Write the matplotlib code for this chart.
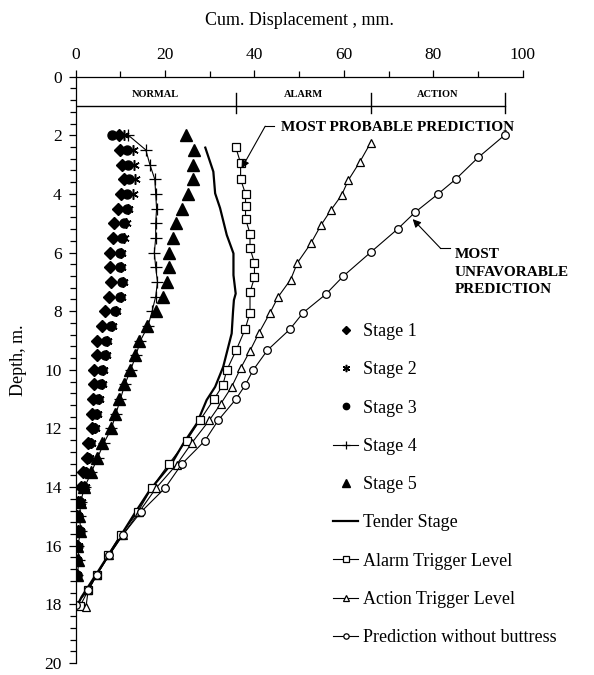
import matplotlib
matplotlib.use("Agg")
import matplotlib.pyplot as plt
import numpy as np
from matplotlib.ticker import MultipleLocator

plt.rcParams['font.family'] = ['Liberation Serif', 'DejaVu Serif']

# inclinometer readings, depth every 0.5 m
stage_depth = np.arange(2.0, 17.01, 0.5)

stage1 = [9.7, 9.9, 10.3, 10.7, 10.1, 9.4, 8.6, 8.3, 7.7, 7.7, 7.9, 7.5, 6.6, 5.8, 4.8, 4.8,
          4.2, 4.0, 3.8, 3.6, 3.6, 2.8, 2.5, 1.6, 1.3, 0.6, 0.2, 0.6, 0.2, 0.1, 0.0]
stage2 = [10.8, 12.9, 13.0, 13.3, 12.9, 11.7, 11.2, 10.7, 10.2, 10.2, 10.6, 10.2, 9.1, 8.1, 7.1, 6.8,
          6.2, 5.9, 5.3, 4.8, 4.3, 3.4, 3.0, 2.3, 2.0, 1.1, 0.6, 1.0, 0.5, 0.4, 0.3]
stage3 = [8.2, 11.4, 11.8, 12.0, 11.4, 11.4, 10.9, 10.4, 9.9, 9.9, 10.3, 9.9, 8.8, 7.8, 6.8, 6.6,
          6.0, 5.6, 5.1, 4.5, 4.1, 3.2, 2.8, 2.1, 1.9, 1.0, 0.5, 0.9, 0.4, 0.3, 0.2]
stage4 = [11.8, 15.7, 16.6, 17.7, 17.9, 18.1, 17.9, 17.9, 17.6, 17.9, 18.3, 17.9, 17.1, 16.2, 14.5, 13.5,
          12.3, 11.0, 10.0, 9.0, 8.0, 6.3, 4.9, 3.5, 2.0, 1.1, 0.9, 1.1, 0.5, 0.7, 0.4]
stage5 = [24.6, 26.5, 26.2, 26.2, 25.2, 23.7, 22.4, 21.8, 20.9, 20.9, 20.5, 19.6, 17.9, 15.9, 14.2, 13.3,
          12.2, 10.8, 9.8, 8.8, 7.8, 6.0, 4.7, 3.4, 1.9, 1.0, 0.8, 1.0, 0.4, 0.6, 0.3]

tender_depth = [2.42, 3.24, 3.98, 4.48, 5.4, 5.86, 6.03, 6.77, 7.4, 7.62, 8.02, 8.76, 9.9, 10.58,
                11.03, 11.83, 12.51, 13.19, 14.1, 14.8, 15.7, 16.95, 17.75, 18.0]
tender = [29.0, 30.8, 31.2, 32.3, 33.8, 34.9, 35.3, 35.3, 35.8, 35.4, 35.2, 34.9, 33.0, 31.2,
          29.3, 27.1, 24.1, 21.5, 16.6, 13.6, 9.9, 4.7, 1.3, 0.5]

alarm_depth = [2.4, 2.95, 3.5, 4.0, 4.4, 4.85, 5.35, 5.85, 6.35, 6.85, 7.35, 8.05, 8.62, 9.33,
               10.01, 10.53, 11.01, 11.72, 12.42, 13.22, 14.03, 14.85, 15.62, 16.32, 17.0, 17.52, 18.05]
alarm = [35.8, 36.9, 36.9, 38.0, 38.0, 38.0, 39.0, 39.0, 40.0, 40.0, 39.0, 39.0, 37.9, 35.9,
         33.8, 32.9, 30.9, 27.8, 24.8, 20.8, 17.0, 13.9, 10.1, 7.2, 4.7, 2.8, 1.0]

action_depth = [2.25, 2.9, 3.53, 4.04, 4.55, 5.06, 5.69, 6.35, 6.92, 7.51, 8.05, 8.74, 9.35, 9.95,
                10.58, 11.15, 11.72, 12.49, 13.23, 14.03, 14.85, 15.62, 16.32, 17.0, 17.52, 18.09]
action = [66.0, 63.6, 61.0, 59.5, 57.1, 54.9, 52.6, 49.6, 48.1, 45.3, 43.5, 41.0, 39.0, 36.9,
          34.9, 32.5, 29.9, 26.0, 22.6, 18.0, 14.2, 10.6, 7.5, 4.7, 2.8, 2.3]

pred_depth = [1.99, 2.75, 3.5, 4.01, 4.63, 5.2, 5.99, 6.8, 7.43, 8.05, 8.62, 9.33, 10.01, 10.53,
              11.01, 11.72, 12.42, 13.22, 14.03, 14.85, 15.62, 16.32, 17.0, 17.52, 18.03]
pred = [96.0, 90.1, 85.0, 81.0, 75.9, 72.0, 66.0, 59.9, 55.9, 50.9, 47.9, 42.9, 39.7, 37.9,
        35.8, 31.9, 28.9, 23.7, 20.0, 14.6, 10.6, 7.5, 4.7, 2.8, 0.0]

# trigger zones along the top
zone_edges = [0, 35.8, 66.0, 96.0]
zone_names = ['NORMAL', 'ALARM', 'ACTION']

fig = plt.figure(figsize=(5.94, 6.75), dpi=100)
ax = fig.add_axes([0.1274, 0.0178, 0.7525, 0.8686])

k = 'black'
ax.plot(stage1, stage_depth, ls='none', marker='D', ms=6, color=k, label='Stage 1')
ax.plot(stage2, stage_depth, ls='none', marker=(6, 2, 0), ms=7.5, mew=1.1, color=k, label='Stage 2')
ax.plot(stage3, stage_depth, ls='none', marker='o', ms=6.5, color=k, label='Stage 3')
ax.plot(stage4, stage_depth, ls='-', lw=0.8, marker='+', ms=8, mew=0.9, color=k, label='Stage 4')
ax.plot(stage5, stage_depth, ls='none', marker='^', ms=8, color=k, label='Stage 5')
ax.plot(tender, tender_depth, ls='-', lw=1.6, color=k, label='Tender Stage')
ax.plot(alarm, alarm_depth, ls='-', lw=0.8, marker='s', ms=5.5, mfc='white', mec=k, mew=0.9,
        color=k, label='Alarm Trigger Level')
ax.plot(action, action_depth, ls='-', lw=0.8, marker='^', ms=6, mfc='white', mec=k, mew=0.9,
        color=k, label='Action Trigger Level')
ax.plot(pred, pred_depth, ls='-', lw=0.8, marker='o', ms=5.5, mfc='white', mec=k, mew=0.9,
        color=k, label='Prediction without buttress')

# zone bar
ax.plot([zone_edges[0], zone_edges[-1]], [1.0, 1.0], color=k, lw=1.0)
for xe in zone_edges[1:]:
    ax.plot([xe, xe], [0.55, 1.25], color=k, lw=1.0)
for i, name in enumerate(zone_names):
    xc = (zone_edges[i] + zone_edges[i + 1]) / 2
    ax.text(xc, 0.6, name, ha='center', va='center', fontsize=7.5, fontweight='bold')

# callouts
ax.plot([42.4, 44.3], [1.69, 1.69], color=k, lw=0.8)
ax.annotate('', xy=(37.1, 3.13), xytext=(42.4, 1.69),
            arrowprops=dict(arrowstyle='-|>', color=k, lw=0.8, shrinkA=0, shrinkB=0,
                            mutation_scale=12))
ax.text(46.0, 1.75, 'MOST PROBABLE PREDICTION', fontsize=11, fontweight='bold',
        ha='left', va='center')

ax.plot([81.6, 83.8], [5.85, 5.85], color=k, lw=0.8)
ax.annotate('', xy=(75.4, 4.86), xytext=(81.6, 5.85),
            arrowprops=dict(arrowstyle='-|>', color=k, lw=0.8, shrinkA=0, shrinkB=0,
                            mutation_scale=12))
ax.text(84.8, 6.67, 'MOST\nUNFAVORABLE\nPREDICTION', fontsize=11, fontweight='bold',
        ha='left', va='center', linespacing=1.45)

ax.set_xlim(0, 100)
ax.set_ylim(20, 0)
ax.xaxis.tick_top()
ax.xaxis.set_label_position('top')
ax.xaxis.set_major_locator(MultipleLocator(20))
ax.xaxis.set_minor_locator(MultipleLocator(10))
ax.yaxis.set_major_locator(MultipleLocator(2))
ax.yaxis.set_minor_locator(MultipleLocator(0.4))
ax.tick_params(which='major', direction='out', length=5, width=0.9, labelsize=12.5, pad=5)
ax.tick_params(which='minor', direction='out', length=4, width=0.9)
ax.spines['right'].set_visible(False)
ax.spines['bottom'].set_visible(False)
ax.spines['top'].set_linewidth(0.9)
ax.spines['left'].set_linewidth(0.9)

ax.set_xlabel('Cum. Displacement , mm.', fontsize=13, va='center')
ax.xaxis.set_label_coords(0.5, 1.095)
ax.set_ylabel('Depth, m.', fontsize=13, va='center')
ax.yaxis.set_label_coords(-0.129, 0.517)

ax.legend(loc='upper left', bbox_to_anchor=(0.5756, 0.58), frameon=False, fontsize=13,
          borderpad=0, borderaxespad=0, handlelength=1.4, handletextpad=0.25,
          labelspacing=1.18, markerscale=0.7)

fig.savefig('out.png', dpi=100)
